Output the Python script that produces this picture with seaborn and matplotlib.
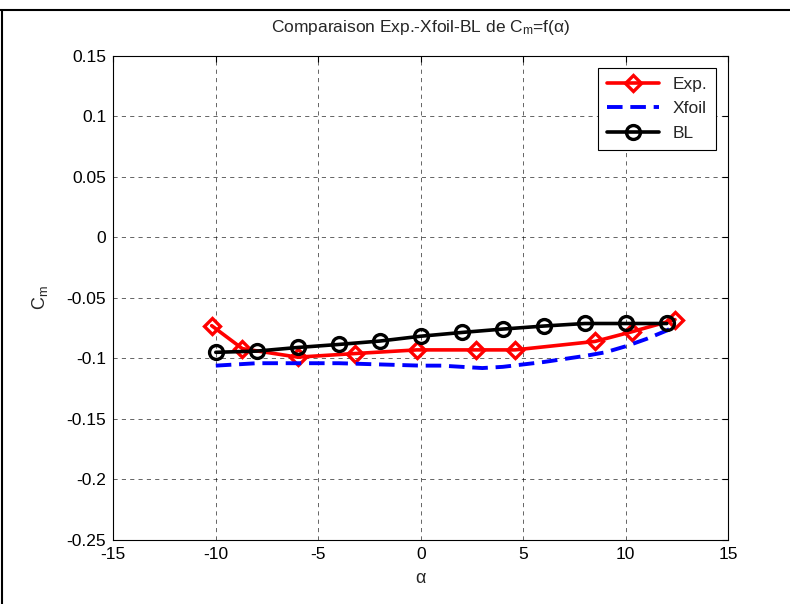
import pandas as pd
import numpy as np
import matplotlib.pyplot as plt
import seaborn as sns
from matplotlib.lines import Line2D

# Data
alpha_exp = [-10.2, -8.7, -6.0, -3.2, -0.2, 2.7, 4.6, 8.5, 10.3, 12.4]
cm_exp = [-0.073, -0.092, -0.099, -0.096, -0.093, -0.093, -0.093, -0.086, -0.078, -0.068]

alpha_xfoil = [-10, -9, -8, -6, -4, -2, 0, 1, 2, 3, 4, 5, 6, 7, 8, 9, 10, 11, 12, 12.3]
cm_xfoil = [-0.106, -0.105, -0.104, -0.104, -0.104, -0.105, -0.106, -0.106, -0.107, -0.108,
            -0.107, -0.105, -0.103, -0.1005, -0.098, -0.095, -0.090, -0.084, -0.077, -0.074]

alpha_bl = [-10, -8, -6, -4, -2, 0, 2, 4, 6, 8, 10, 12]
cm_bl = [-0.095, -0.094, -0.091, -0.0885, -0.0857, -0.0817, -0.0786, -0.0758, -0.0733, -0.0712, -0.0712, -0.0712]

xticks = [-15, -10, -5, 0, 5, 10, 15]
yticks = [-0.25, -0.2, -0.15, -0.1, -0.05, 0, 0.05, 0.1, 0.15]

# Style
sns.set_style("white")
plt.rcParams['font.family'] = ['Liberation Sans', 'DejaVu Sans']
plt.rcParams['mathtext.fontset'] = 'custom'
plt.rcParams['mathtext.rm'] = 'Liberation Sans'
plt.rcParams['mathtext.it'] = 'Liberation Sans:italic'

df_exp = pd.DataFrame({"alpha": alpha_exp, "cm": cm_exp})
df_xfoil = pd.DataFrame({"alpha": alpha_xfoil, "cm": cm_xfoil})
df_bl = pd.DataFrame({"alpha": alpha_bl, "cm": cm_bl})

fig = plt.figure(figsize=(7.9, 6.04), dpi=100)
ax = fig.add_axes([0.1434, 0.1060, 0.7785, 0.8018])

sns.lineplot(data=df_exp, x="alpha", y="cm", ax=ax, color="red", linewidth=2.6,
             marker="D", markersize=8, markerfacecolor="none", markeredgecolor="red",
             markeredgewidth=2.4, label="Exp.", sort=False)
sns.lineplot(data=df_xfoil, x="alpha", y="cm", ax=ax, color="blue", linewidth=2.8,
             linestyle=(0, (4, 2)), label="Xfoil", sort=False)
sns.lineplot(data=df_bl, x="alpha", y="cm", ax=ax, color="black", linewidth=2.6,
             marker="o", markersize=10, markerfacecolor="none", markeredgecolor="black",
             markeredgewidth=2.4, label="BL", sort=False)

ax.set_xlim(-15, 15)
ax.set_ylim(-0.25, 0.15)
ax.set_xticks(xticks)
ax.set_yticks(yticks)
ax.set_xticklabels([str(t) for t in xticks])
ax.set_yticklabels([f"{t:g}" for t in yticks])
ax.tick_params(direction="in", top=True, right=True, length=4, width=0.8,
               labelsize=12.5, colors="black", pad=5)
ax.grid(True, color="black", linestyle=(0, (5, 5)), linewidth=0.6, alpha=0.7)
for s in ax.spines.values():
    s.set_color("black")
    s.set_linewidth(0.8)

ax.set_title(r"Comparaison Exp.-Xfoil-BL de C$_{\rm m}$=f(α)", fontsize=12.5, pad=17)
ax.set_xlabel("α", fontsize=13, labelpad=6)
ax.set_ylabel(r"C$_{\rm m}$", fontsize=13, labelpad=12)

leg = ax.legend(loc="upper right", fontsize=12.5, frameon=True, fancybox=False,
                edgecolor="black", framealpha=1, borderaxespad=0.7,
                handlelength=3.0, labelspacing=0.55, borderpad=0.5)
leg.get_frame().set_linewidth(0.8)

# figure frame
fig.add_artist(Line2D([0, 1], [0.984, 0.984], color="black", linewidth=1.5, transform=fig.transFigure))
fig.add_artist(Line2D([0.003, 0.003], [0, 0.984], color="black", linewidth=1.5, transform=fig.transFigure))

fig.savefig("out.png", dpi=100)
